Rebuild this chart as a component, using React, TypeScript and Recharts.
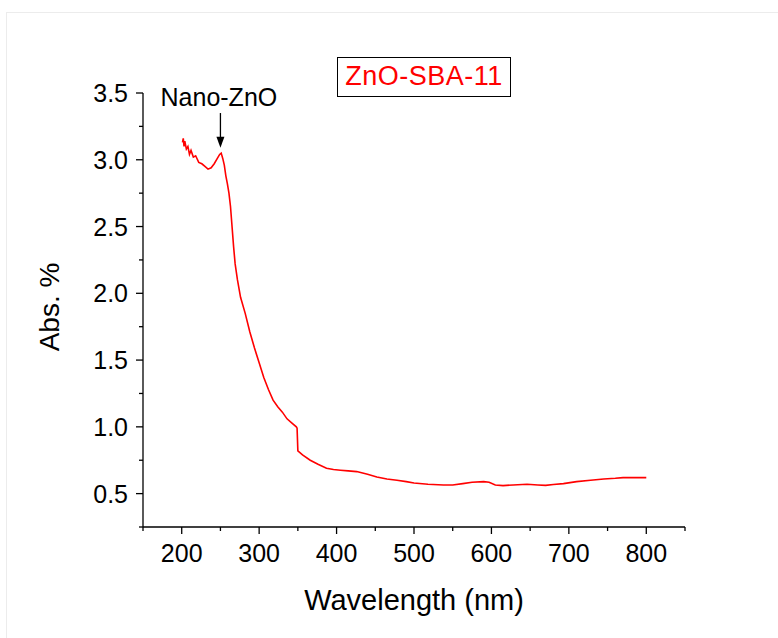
import React from "react"
import {
  LineChart,
  Line,
  XAxis,
  YAxis,
  ReferenceLine,
  ReferenceDot,
} from "recharts"

const wavelength = [
  201, 202, 203, 204, 206, 208, 210, 212, 215, 218, 222, 226, 230, 234, 238, 242, 246, 249, 251, 253,
  255, 257, 259, 261, 263, 265, 267, 269, 272, 276, 282, 288, 294, 300, 306, 312, 318, 324, 330, 336,
  342, 348, 349, 350, 356, 366, 376, 387, 396, 405, 415, 426, 440, 452, 465, 478, 490, 500, 518, 538,
  550, 563, 575, 590, 597, 605, 615, 628, 646, 660, 670, 680, 693, 710, 728, 745, 760, 770, 785, 800,
]
const absorbance = [
  3.13, 3.16, 3.1, 3.14, 3.08, 3.1, 3.04, 3.07, 3.02, 3.03, 2.98, 2.97, 2.95, 2.93, 2.94, 2.97, 3.01, 3.04, 3.05, 3.01,
  2.96, 2.88, 2.82, 2.75, 2.65, 2.5, 2.35, 2.22, 2.1, 1.97, 1.85, 1.71, 1.59, 1.48, 1.37, 1.28, 1.2, 1.15, 1.11, 1.06,
  1.03, 1.0, 0.99, 0.82, 0.79, 0.75, 0.72, 0.69, 0.68, 0.675, 0.67, 0.665, 0.645, 0.625, 0.61, 0.6, 0.59, 0.58, 0.57, 0.565,
  0.565, 0.575, 0.585, 0.59, 0.585, 0.565, 0.56, 0.565, 0.57, 0.565, 0.562, 0.568, 0.575, 0.59, 0.6, 0.61, 0.615, 0.62, 0.62, 0.62,
]

const xTicks = [150, 200, 250, 300, 350, 400, 450, 500, 550, 600, 650, 700, 750, 800, 850]
const yTicks = [0.25, 0.5, 0.75, 1.0, 1.25, 1.5, 1.75, 2.0, 2.25, 2.5, 2.75, 3.0, 3.25, 3.5]

const data = wavelength.map((w, i) => ({ w, a: absorbance[i] }))

const font = "'Liberation Sans', Arial, sans-serif"

const XTick = ({ x, y, payload }: any) => {
  const major = payload.value % 100 === 0
  return (
    <g>
      <line x1={x} x2={x} y1={y} y2={y + (major ? 7 : 4)} stroke="#000" strokeWidth={1.3} />
      {major && (
        <text x={x} y={y + 35} textAnchor="middle" fontSize={25} fontFamily={font} fill="#000">
          {payload.value}
        </text>
      )}
    </g>
  )
}

const YTick = ({ x, y, payload }: any) => {
  const major = Math.round(payload.value * 100) % 50 === 0
  return (
    <g>
      <line x1={x} x2={x - (major ? 7 : 4)} y1={y} y2={y} stroke="#000" strokeWidth={1.3} />
      {major && (
        <text x={x - 15} y={y + 9} textAnchor="end" fontSize={25} fontFamily={font} fill="#000">
          {payload.value.toFixed(1)}
        </text>
      )}
    </g>
  )
}

const ArrowHead = ({ cx, cy }: any) => (
  <path d={`M${cx - 4},${cy - 11} L${cx + 4},${cy - 11} L${cx},${cy} Z`} fill="#000" />
)

const NanoLabel = ({ cx, cy }: any) => (
  <text x={cx} y={cy} textAnchor="middle" fontSize={25} fontFamily={font} fill="#000">
    Nano-ZnO
  </text>
)

export default function App() {
  return (
    <div style={{ position: "absolute", left: 0, top: 0, width: 778, height: 638, background: "#fff", overflow: "hidden" }}>
      <div style={{ position: "absolute", left: 6, top: 12, width: 800, height: 700, border: "1px solid #ececec" }} />
      <LineChart
        width={778}
        height={638}
        data={data}
        margin={{ top: 93, right: 93, bottom: 51, left: 83 }}
        style={{ position: "absolute", left: 0, top: 0 }}
      >
        <XAxis
          dataKey="w"
          type="number"
          domain={[150, 850]}
          ticks={xTicks}
          interval={0}
          height={60}
          tickSize={0}
          tickMargin={0}
          tick={<XTick />}
          axisLine={{ stroke: "#000", strokeWidth: 1.3 }}
          tickLine={false}
        />
        <YAxis
          type="number"
          domain={[0.25, 3.5]}
          ticks={yTicks}
          interval={0}
          width={60}
          tickSize={0}
          tickMargin={0}
          tick={<YTick />}
          axisLine={{ stroke: "#000", strokeWidth: 1.3 }}
          tickLine={false}
        />
        <ReferenceLine
          segment={[{ x: 250, y: 3.35 }, { x: 250, y: 3.12 }]}
          stroke="#000"
          strokeWidth={1.3}
          ifOverflow="visible"
        />
        <ReferenceDot x={250} y={3.09} ifOverflow="visible" shape={<ArrowHead />} />
        <ReferenceDot x={248} y={3.4} ifOverflow="visible" shape={<NanoLabel />} />
        <Line
          type="linear"
          dataKey="a"
          stroke="#ff0000"
          strokeWidth={1.6}
          dot={false}
          isAnimationActive={false}
        />
      </LineChart>
      <div
        style={{
          position: "absolute",
          left: 337,
          top: 57,
          width: 174,
          height: 40,
          border: "1.5px solid #000",
          color: "#ff0000",
          fontFamily: font,
          fontSize: 27,
          letterSpacing: 0.5,
          lineHeight: "37px",
          textAlign: "center",
          boxSizing: "border-box",
        }}
      >
        ZnO-SBA-11
      </div>
      <div
        style={{
          position: "absolute",
          left: 414,
          top: 600,
          transform: "translate(-50%, -50%)",
          fontFamily: font,
          fontSize: 29,
          whiteSpace: "nowrap",
        }}
      >
        Wavelength (nm)
      </div>
      <div
        style={{
          position: "absolute",
          left: 50,
          top: 307,
          transform: "translate(-50%, -50%) rotate(-90deg)",
          fontFamily: font,
          fontSize: 28,
          whiteSpace: "nowrap",
        }}
      >
        Abs. %
      </div>
    </div>
  )
}
